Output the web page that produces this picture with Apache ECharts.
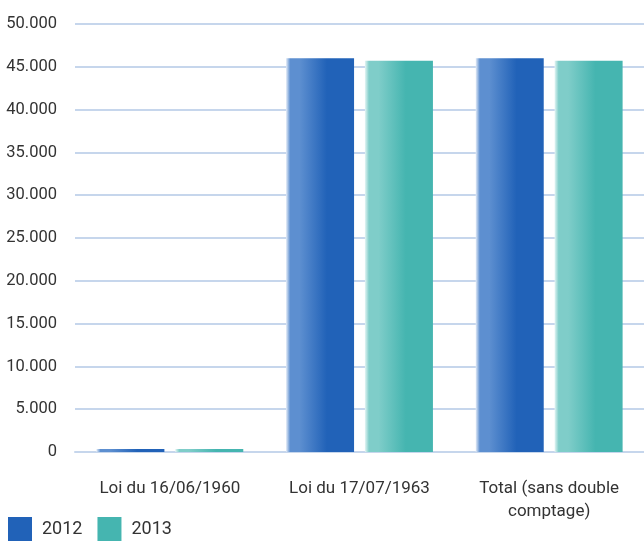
<!DOCTYPE html>
<html><head><meta charset="utf-8">
<script src="https://cdn.jsdelivr.net/npm/echarts@6/dist/echarts.min.js"></script>
<style>html,body{margin:0;padding:0;background:#fff}#c{width:644px;height:541px}</style>
</head><body><div id="c"></div>
<script>
const categories = ['Loi du 16/06/1960', 'Loi du 17/07/1963', 'Total (sans double\ncomptage)'];
const values2012 = [350, 46000, 46000];
const values2013 = [350, 45700, 45700];
const seriesNames = ['2012', '2013'];
const yTicks = [0, 5000, 10000, 15000, 20000, 25000, 30000, 35000, 40000, 45000, 50000];

function grad(edge, light, solid) {
  return new echarts.graphic.LinearGradient(0, 0, 1, 0, [
    {offset: 0, color: edge},
    {offset: 0.06, color: light},
    {offset: 0.2, color: light},
    {offset: 0.6, color: solid},
    {offset: 1, color: solid}
  ]);
}
const font = 'Roboto, "DejaVu Sans", sans-serif';
const chart = echarts.init(document.getElementById('c'));
chart.setOption({
  animation: false,
  grid: {left: 75, right: 0, top: 24, bottom: 89},
  legend: {
    left: 3, top: 512, itemWidth: 24, itemHeight: 24, itemGap: 15,
    icon: 'rect',
    textStyle: {fontFamily: font, fontSize: 18, color: '#333', padding: [0,0,0,5]},
    data: [
      {name: seriesNames[0], itemStyle: {color: '#2162b8'}},
      {name: seriesNames[1], itemStyle: {color: '#45b5b0'}}
    ]
  },
  xAxis: {
    type: 'category', data: categories,
    axisLine: {lineStyle: {color: '#c6d6ec', width: 2}},
    axisTick: {length: 15, lineStyle: {color: '#c6d6ec', width: 2}},
    axisLabel: {fontFamily: font, fontSize: 17, color: '#333', margin: 25, lineHeight: 23}
  },
  yAxis: {
    type: 'value', min: 0, max: 50000, interval: 5000,
    axisLine: {show: false}, axisTick: {show: false},
    splitLine: {lineStyle: {color: '#c6d6ec', width: 2}},
    axisLabel: {fontFamily: font, fontSize: 16.5, color: '#333', margin: 18,
      formatter: v => v === 0 ? '0' : v.toLocaleString('de-DE')}
  },
  series: [
    {name: seriesNames[0], type: 'bar', data: values2012, barWidth: 68, barGap: '16%',
     itemStyle: {color: grad('#e4ecf7', '#5d8fd0', '#2162b8')}},
    {name: seriesNames[1], type: 'bar', data: values2013, barWidth: 68,
     itemStyle: {color: grad('#e4f5f4', '#7fcdc9', '#45b5b0')}}
  ]
});
</script></body></html>
